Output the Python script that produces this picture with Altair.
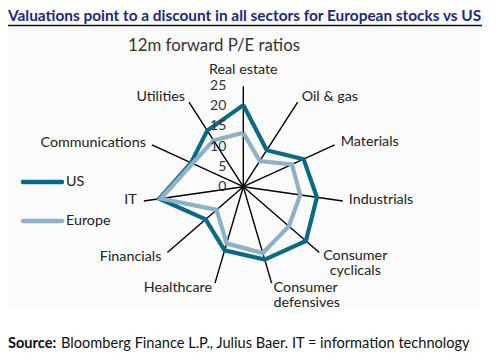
import altair as alt
import pandas as pd

# ---------------- data ----------------
categories = ["Real estate", "Oil & gas", "Materials", "Industrials",
              "Consumer cyclicals", "Consumer defensives", "Healthcare",
              "Financials", "IT", "Communications", "Utilities"]
series = ["US", "Europe"]
us_values = [20.3, 10.8, 16.5, 18.5, 20.6, 18.9, 16.5, 12.4, 21.1, 14.3, 16.6]
europe_values = [13.4, 7.6, 13.3, 14.3, 15.0, 17.2, 14.7, 8.8, 20.7, 13.9, 13.7]
ticks = [0, 5, 10, 15, 20, 25]
axis_max = 25

title_text = "Valuations point to a discount in all sectors for European stocks vs US"
subtitle_text = "12m forward P/E ratios"
source_bold = "Source:"
source_rest = "Bloomberg Finance L.P., Julius Baer. IT = information technology"

# ---------------- layout / style ----------------
W, H = 486, 344
CX, CY = 235.3, 178.7       # centre of radar in chart pixels
K = 4.02                    # pixels per unit
N = len(categories)
FONT = "Lato"
US_COL = "#0b6a87"
EU_COL = "#8db1c7"
TXT = "#222222"

xs = alt.Scale(domain=[-CX / K, (W - CX) / K], nice=False, zero=False)
ys = alt.Scale(domain=[-(H - CY) / K, CY / K], nice=False, zero=False)
X = lambda f: alt.X(f, type="quantitative", scale=xs, axis=None)
Y = lambda f: alt.Y(f, type="quantitative", scale=ys, axis=None)

values = {"US": us_values, "Europe": europe_values}
rows = []
for s in series:
    for j in range(N + 1):
        rows.append({"series": s, "idx": j % N, "ord": j, "value": values[s][j % N]})
poly_df = pd.DataFrame(rows)
cat_df = pd.DataFrame({"cat": categories, "idx": list(range(N))})
tick_df = pd.DataFrame({"tick": ticks})

ang = "2*PI*datum.idx/%d" % N
color_scale = alt.Scale(domain=series, range=[US_COL, EU_COL])

# background
bg = alt.Chart(pd.DataFrame({"a": [0]})).mark_rect(color="#fbfbfb").encode(
    x=alt.value(0), x2=alt.value(472), y=alt.value(19), y2=alt.value(302))

# spokes
spokes = alt.Chart(cat_df).transform_calculate(
    x0="0", y0="0",
    x1="%f*sin(%s)" % (axis_max, ang), y1="%f*cos(%s)" % (axis_max, ang)
).mark_rule(color="#000000", strokeWidth=1.4).encode(
    x=X("x0:Q"), y=Y("y0:Q"), x2="x1:Q", y2="y1:Q")

# series lines
lines = []
for s in series:
    lines.append(alt.Chart(poly_df).transform_filter(alt.datum.series == s).transform_calculate(
        px="datum.value*sin(%s)" % ang, py="datum.value*cos(%s)" % ang
    ).mark_line(strokeWidth=4.2, strokeJoin="miter").encode(
        x=X("px:Q"), y=Y("py:Q"), order="ord:Q",
        color=alt.Color("series:N", scale=color_scale, legend=None)))

# tick labels
tick_labels = alt.Chart(tick_df).transform_calculate(zx="0").mark_text(
    align="right", baseline="middle", dx=-17, font=FONT, fontSize=14, color="#333333"
).encode(x=X("zx:Q"), y=Y("tick:Q"), text="tick:Q")

# category labels: (align, dx, dy)
label_style = {
    "Real estate": ("center", 0, -16),
    "Oil & gas": ("left", 4, -5),
    "Materials": ("left", 6, -3),
    "Industrials": ("left", 6, -1),
    "Consumer cyclicals": ("center", 36, 3),
    "Consumer defensives": ("left", 2, 5),
    "Healthcare": ("right", -3, 5),
    "Financials": ("right", -6, 4),
    "IT": ("right", -7, -1),
    "Communications": ("right", -6, -2),
    "Utilities": ("right", -4, -5),
}
label_layers = []
for c in categories:
    a, dx, dy = label_style[c]
    kw = dict(align=a, baseline="middle", dx=dx, dy=dy, font=FONT, fontSize=14.3, color=TXT)
    if c.startswith("Consumer"):
        kw.update(lineBreak=" ", lineHeight=15)
    label_layers.append(alt.Chart(cat_df).transform_filter(alt.datum.cat == c).transform_calculate(
        lx="%f*sin(%s)" % (axis_max, ang), ly="%f*cos(%s)" % (axis_max, ang)
    ).mark_text(**kw).encode(x=X("lx:Q"), y=Y("ly:Q"), text="cat:N"))

# legend
ser_df = pd.DataFrame({"series": series})
legend_layers = []
for i, s in enumerate(series):
    yy = 174 + i * 39
    legend_layers.append(alt.Chart(ser_df).transform_filter(alt.datum.series == s).mark_rule(
        strokeWidth=4.5, strokeCap="round").encode(
        x=alt.value(15), x2=alt.value(54), y=alt.value(yy),
        color=alt.Color("series:N", scale=color_scale, legend=None)))
    legend_layers.append(alt.Chart(ser_df).transform_filter(alt.datum.series == s).mark_text(
        align="left", baseline="middle", font=FONT, fontSize=14.3, color=TXT).encode(
        x=alt.value(58), y=alt.value(yy), text="series:N"))

# texts
one = pd.DataFrame({"a": [0]})
title = alt.Chart(one).mark_text(align="left", baseline="alphabetic", font=FONT, fontSize=15.4,
                                 fontWeight="bold", color="#1d2788", text=title_text).encode(
    x=alt.value(0), y=alt.value(12.5))
title_rule = alt.Chart(one).mark_rule(color="#111111", strokeWidth=1.5).encode(
    x=alt.value(0), x2=alt.value(474), y=alt.value(17.5))
subtitle = alt.Chart(one).mark_text(align="left", baseline="alphabetic", font=FONT, fontSize=16.8,
                                    color="#333333", text=subtitle_text).encode(
    x=alt.value(120), y=alt.value(43))
src1 = alt.Chart(one).mark_text(align="left", baseline="alphabetic", font=FONT, fontSize=14.6,
                                fontWeight="bold", color="#111111", text=source_bold).encode(
    x=alt.value(0), y=alt.value(340))
src2 = alt.Chart(one).mark_text(align="left", baseline="alphabetic", font=FONT, fontSize=14.6,
                                color="#111111", text=source_rest).encode(
    x=alt.value(53), y=alt.value(340))

chart = alt.layer(bg, spokes, *lines, tick_labels, *label_layers, *legend_layers,
                  title, title_rule, subtitle, src1, src2).properties(
    width=W, height=H, padding=0, autosize=alt.AutoSizeParams(type="none")
).configure_view(stroke=None)

chart.save("out.html", embed_options={"renderer": "svg", "actions": False})
